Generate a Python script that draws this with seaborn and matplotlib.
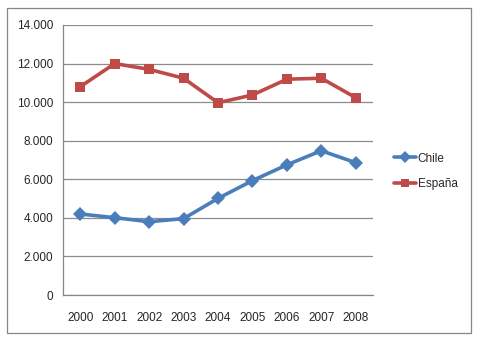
import matplotlib
matplotlib.use("Agg")
import matplotlib.pyplot as plt
from matplotlib.patches import Rectangle
from matplotlib.lines import Line2D
from matplotlib.ticker import FuncFormatter
import seaborn as sns
import pandas as pd
import numpy as np

years = ["2000", "2001", "2002", "2003", "2004", "2005", "2006", "2007", "2008"]
chile = [4200, 4010, 3800, 3960, 5010, 5930, 6750, 7480, 6860]
espana = [10800, 12000, 11700, 11240, 9970, 10370, 11190, 11240, 10230]
series_names = ["Chile", "España"]

df = pd.DataFrame({
    "pos": list(range(len(years))) * 2,
    "valor": chile + espana,
    "serie": [series_names[0]] * len(years) + [series_names[1]] * len(years),
})

sns.set_style("white")
plt.rcParams["font.family"] = ["Liberation Sans", "DejaVu Sans"]

fig = plt.figure(figsize=(4.83, 3.45), dpi=100)
ax = fig.add_axes([63 / 483, 1 - 295 / 345, 310 / 483, 270 / 345])

palette = {"Chile": "#4A7EBB", "España": "#BE4B48"}
sns.lineplot(data=df, x="pos", y="valor", hue="serie", style="serie",
             markers={"Chile": "D", "España": "s"}, dashes=False,
             palette=palette, linewidth=2.6, markersize=7,
             markeredgewidth=0, ax=ax, legend=False)

ax.set_xlim(-0.5, len(years) - 0.5)
ax.set_ylim(0, 14000)
ax.set_yticks(np.arange(0, 14001, 2000))
ax.yaxis.set_major_formatter(FuncFormatter(lambda v, p: f"{int(v):,}".replace(",", ".")))
ax.grid(axis="y", color="#8c8c8c", linewidth=0.9)
ax.set_axisbelow(True)

# category boundaries carry the tick marks, centres carry the labels
ax.set_xticks(np.arange(-0.5, len(years), 1.0))
ax.set_xticklabels([])
ax.set_xticks(np.arange(len(years)), minor=True)
ax.set_xticklabels(years, minor=True)
ax.tick_params(axis="x", which="major", direction="out", length=4, color="#868686", width=0.9)
ax.tick_params(axis="x", which="minor", length=0, pad=12, labelsize=8.5)
ax.tick_params(axis="y", length=4, direction="out", color="#868686", width=0.9, labelsize=8.5, pad=3)

for s in ["top", "right"]:
    ax.spines[s].set_visible(False)
for s in ["left", "bottom"]:
    ax.spines[s].set_color("#868686")
    ax.spines[s].set_linewidth(0.9)
ax.set_xlabel("")
ax.set_ylabel("")

# legend drawn beside the plot area
handles = [Line2D([0], [0], color=palette["Chile"], marker="D", lw=2.6, ms=6, mew=0),
           Line2D([0], [0], color=palette["España"], marker="s", lw=2.6, ms=6, mew=0)]
fig.legend(handles, series_names, loc="upper left", bbox_to_anchor=(383 / 483, 1 - 142 / 345),
           frameon=False, fontsize=8.5, handlelength=1.9, handletextpad=0.15, labelspacing=1.15)

# outer chart border
fig.patches.append(Rectangle((7 / 483, 1 - 333 / 345), 464 / 483, 325 / 345,
                             transform=fig.transFigure, fill=False,
                             edgecolor="#868686", linewidth=0.9))

fig.savefig("out.png", dpi=100)
